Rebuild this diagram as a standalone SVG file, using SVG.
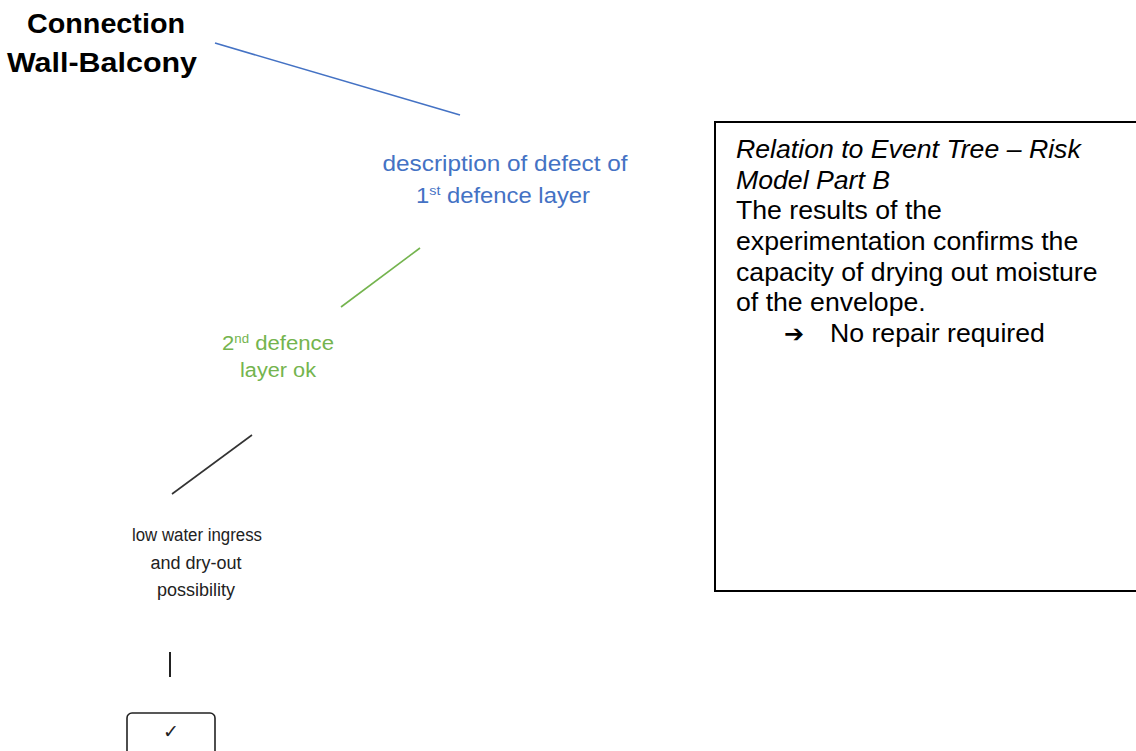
<svg xmlns="http://www.w3.org/2000/svg" width="1136" height="751" viewBox="0 0 1136 751">
<style>
.t{font-family:"Liberation Sans",Arial,sans-serif;text-anchor:middle}
.title{font-weight:bold;font-size:27px;fill:#000}
.blue{font-size:22px;fill:#4472C4}
.green{font-size:20px;fill:#74B44E}
.black{font-size:18px;fill:#222}
.panel{font-family:"Liberation Sans",Arial,sans-serif;font-size:26.67px;fill:#000}
.sup{font-size:0.6em}
</style>
<rect width="1136" height="751" fill="#fff"/>
<g id="title">
<text class="t title" x="106" y="33" textLength="158" lengthAdjust="spacingAndGlyphs">Connection</text>
<text class="t title" x="102" y="72" textLength="190" lengthAdjust="spacingAndGlyphs">Wall-Balcony</text>
</g>
<g id="connectors" fill="none" stroke-width="1.6">
<line x1="215" y1="43" x2="460" y2="115" stroke="#4472C4"/>
<line x1="341" y1="307" x2="420" y2="248" stroke="#74B44E"/>
<line x1="172" y1="494" x2="252" y2="435" stroke="#333"/>
<line x1="170" y1="652" x2="170" y2="677" stroke="#222" stroke-width="2"/>
</g>
<g id="node-defect1">
<text class="t blue" x="505" y="171" textLength="245" lengthAdjust="spacingAndGlyphs">description of defect of</text>
<text class="t blue" x="503" y="203" textLength="174" lengthAdjust="spacingAndGlyphs">1<tspan class="sup" dy="-8">st</tspan><tspan dy="8"> defence layer</tspan></text>
</g>
<g id="node-defence2">
<text class="t green" x="278" y="350" textLength="112" lengthAdjust="spacingAndGlyphs">2<tspan class="sup" dy="-7">nd</tspan><tspan dy="7"> defence</tspan></text>
<text class="t green" x="278" y="377" textLength="76" lengthAdjust="spacingAndGlyphs">layer ok</text>
</g>
<g id="node-ingress">
<text class="t black" x="197" y="541" textLength="130" lengthAdjust="spacingAndGlyphs">low water ingress</text>
<text class="t black" x="196" y="569">and dry-out</text>
<text class="t black" x="196" y="596">possibility</text>
</g>
<g id="node-ok">
<rect x="127" y="713" width="88" height="48" rx="5" fill="none" stroke="#222" stroke-width="1.6"/>
<text class="t" x="171" y="738" font-size="19" fill="#222" font-family="DejaVu Sans,sans-serif">✓</text>
</g>
<g id="panel">
<rect x="715" y="122" width="440" height="469" fill="none" stroke="#000" stroke-width="2"/>
<text class="panel" x="736" y="158" font-style="italic">Relation to Event Tree – Risk</text>
<text class="panel" x="736" y="188.7" font-style="italic">Model Part B</text>
<text class="panel" x="736" y="219.4">The results of the</text>
<text class="panel" x="736" y="250">experimentation confirms the</text>
<text class="panel" x="736" y="280.7">capacity of drying out moisture</text>
<text class="panel" x="736" y="311.4">of the envelope.</text>
<text x="784" y="342" font-family="DejaVu Sans,sans-serif" font-size="24" font-weight="bold" fill="#000">➔</text>
<text class="panel" x="830" y="342">No repair required</text>
</g>
</svg>
